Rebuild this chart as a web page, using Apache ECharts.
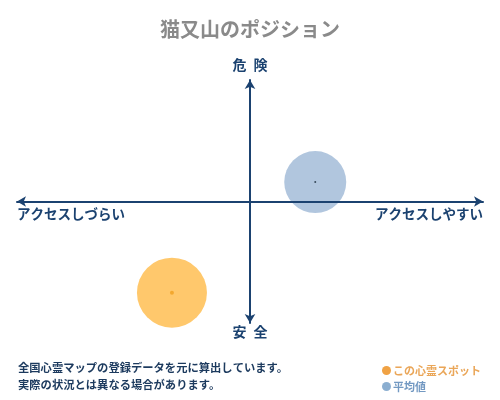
<!DOCTYPE html>
<html>
<head>
<meta charset="utf-8">
<script src="https://cdn.jsdelivr.net/npm/echarts@6/dist/echarts.min.js"></script>
<style>
  html, body { margin: 0; padding: 0; background: #fff; }
  #chart { width: 500px; height: 400px; }
</style>
</head>
<body>
<div id="chart"></div>
<script>
const FONT = '"Noto Sans CJK JP", sans-serif';
const NAVY = "#1b4270";

// 位置データ（x: アクセス, y: 危険度）
const spotPoint = [-33.5, -75];
const averagePoint = [28, 16];
const spotSize = 70;
const averageSize = 62;

const seriesNames = ["この心霊スポット", "平均値"];
const axisLabels = {
  left: "アクセスしづらい",
  right: "アクセスしやすい",
  top: "危\u2002険",
  bottom: "安\u2002全"
};
const noteLines = [
  "全国心霊マップの登録データを元に算出しています。",
  "実際の状況とは異なる場合があります。"
];

const chart = echarts.init(document.getElementById("chart"));

const axisLine = {
  onZero: true,
  symbol: ["arrow", "arrow"],
  symbolSize: [8, 9],
  lineStyle: { color: NAVY, width: 2 }
};

chart.setOption({
  animation: false,
  title: {
    text: "猫又山のポジション",
    left: "center",
    top: 14,
    textStyle: { color: "#8a8a8a", fontSize: 20, fontWeight: "bold", fontFamily: FONT }
  },
  grid: { left: 17, right: 17, top: 80, bottom: 77 },
  xAxis: {
    type: "value",
    min: -100,
    max: 100,
    axisLine: axisLine,
    axisTick: { show: false },
    axisLabel: { show: false },
    splitLine: { show: false },
    z: 5
  },
  yAxis: {
    type: "value",
    min: -100,
    max: 100,
    axisLine: axisLine,
    axisTick: { show: false },
    axisLabel: { show: false },
    splitLine: { show: false },
    z: 5
  },
  legend: {
    orient: "vertical",
    left: 377,
    top: 360,
    itemWidth: 9,
    itemHeight: 9,
    itemGap: 5,
    icon: "circle",
    selectedMode: false,
    textStyle: { fontFamily: FONT, fontSize: 11, fontWeight: "bold", padding: [0, 0, 0, -3] },
    data: [
      { name: seriesNames[0], itemStyle: { color: "#f0a244" }, textStyle: { color: "#eaa658" } },
      { name: seriesNames[1], itemStyle: { color: "#7ea5cb" }, textStyle: { color: "#7399c2" } }
    ]
  },
  graphic: [
    {
      type: "text", left: 17, top: 207,
      style: { text: axisLabels.left, fill: NAVY, font: "bold 13.5px " + FONT }
    },
    {
      type: "text", right: 17, top: 207,
      style: { text: axisLabels.right, fill: NAVY, font: "bold 13.5px " + FONT }
    },
    {
      type: "text", left: "center", top: 58,
      style: { text: axisLabels.top, fill: NAVY, font: "bold 14px " + FONT }
    },
    {
      type: "text", left: "center", top: 325,
      style: { text: axisLabels.bottom, fill: NAVY, font: "bold 14px " + FONT }
    },
    {
      type: "text", left: 18, top: 359,
      style: { text: noteLines.join("\n"), fill: "#1c3a5e", font: "bold 11.3px " + FONT, lineHeight: 17 }
    }
  ],
  series: [
    {
      name: seriesNames[0],
      type: "scatter",
      symbolSize: spotSize,
      itemStyle: { color: "#ffc86c", opacity: 1 },
      data: [spotPoint],
      z: 2
    },
    {
      name: seriesNames[1],
      type: "scatter",
      symbolSize: averageSize,
      itemStyle: { color: "#a9c0da", opacity: 0.9 },
      data: [averagePoint],
      z: 2
    },
    {
      type: "scatter",
      symbolSize: 4,
      itemStyle: { color: "#f0a020" },
      data: [spotPoint],
      z: 3
    },
    {
      type: "scatter",
      symbolSize: 2,
      itemStyle: { color: "#1a2a3a" },
      data: [averagePoint],
      z: 3
    }
  ]
});
</script>
</body>
</html>
